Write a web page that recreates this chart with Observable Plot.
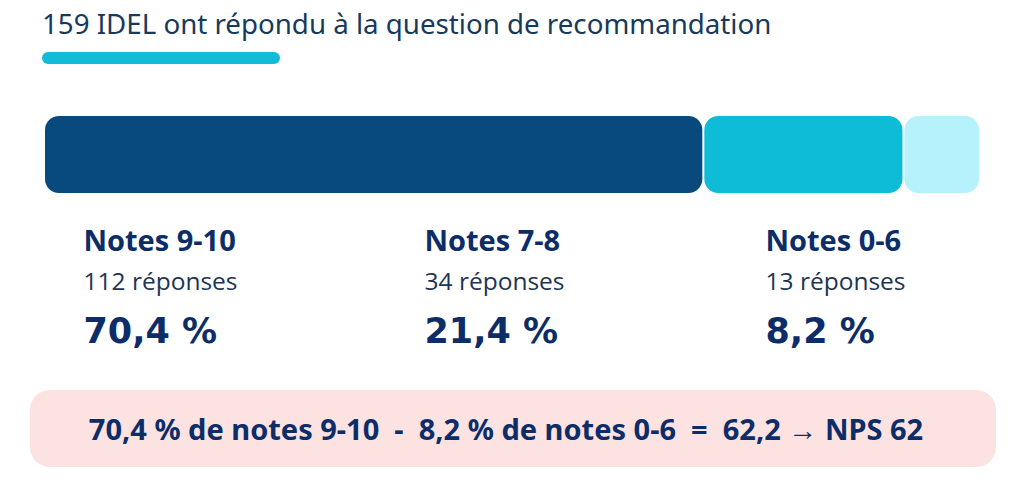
<!DOCTYPE html>
<html>
<head>
<meta charset="utf-8">
<script src="https://cdn.jsdelivr.net/npm/d3@7"></script>
<script src="https://cdn.jsdelivr.net/npm/@observablehq/plot@0.6"></script>
<style>
  html, body { margin: 0; padding: 0; background: #ffffff; }
  body { width: 1024px; height: 500px; position: relative; overflow: hidden; font-family: "Noto Sans", sans-serif; }
  #title { position: absolute; left: 42px; top: 5px; font-size: 27.7px; line-height: 36px; color: #173a5c; white-space: nowrap; }
  #underline { position: absolute; left: 42px; top: 52px; width: 238px; height: 12px; border-radius: 6px; background: #12bcd9; }
  #bar { position: absolute; left: 0; top: 100px; }
  #labels { position: absolute; left: 0; top: 210px; }
  #formula { position: absolute; left: 30px; top: 390px; width: 952px; padding-right: 14px; height: 77px; border-radius: 20px; background: #fde2e2;
             display: flex; align-items: center; justify-content: center; font-weight: 700; font-size: 29px; color: #0c2d68; white-space: pre; }
  svg { overflow: visible; }
</style>
</head>
<body>
<div id="title"></div>
<div id="underline"></div>
<div id="bar"></div>
<div id="labels"></div>
<div id="formula"></div>
<script>
// ---- data ----
const categories = ["Notes 9-10", "Notes 7-8", "Notes 0-6"];
const counts = [112, 34, 13];
const colors = ["#08497e", "#0fbcd8", "#b6f2fb"];
const titleText = "159 IDEL ont répondu à la question de recommandation";

// ---- derived ----
const fmt = v => v.toFixed(1).replace(".", ",");
const total = d3.sum(counts);
const pcts = counts.map(c => Math.round(c / total * 1000) / 10);
let acc = 0;
const rows = categories.map((c, i) => {
  const r = {cat: c, count: counts[i], pct: pcts[i], x1: acc, x2: acc + counts[i]};
  acc += counts[i];
  return r;
});
const nps = Math.round((pcts[0] - pcts[2]) * 10) / 10;

document.getElementById("title").textContent = titleText;

// ---- bar ----
const barPlot = Plot.plot({
  width: 1024,
  height: 110,
  marginLeft: 44,
  marginRight: 44,
  marginTop: 16,
  marginBottom: 17,
  x: {domain: [0, total], axis: null},
  color: {domain: categories, range: colors},
  marks: [
    Plot.rectX(rows, {x1: "x1", x2: "x2", fill: "cat", insetLeft: 1, insetRight: 1, rx: 14})
  ]
});
document.getElementById("bar").append(barPlot);

// ---- labels ----
const navy = "#0c2d68";
const labelPlot = Plot.plot({
  width: 1024,
  height: 150,
  margin: 0,
  x: {type: "point", domain: categories, range: [83, 765], padding: 0, axis: null},
  marks: [
    Plot.text(rows, {x: "cat", text: "cat", frameAnchor: "top", textAnchor: "start", lineAnchor: "bottom", dy: 40,
      fontSize: 29, fontWeight: 700, fill: navy, fontFamily: "Open Sans"}),
    Plot.text(rows, {x: "cat", text: d => d.count + " réponses", frameAnchor: "top", textAnchor: "start", lineAnchor: "bottom", dy: 79,
      fontSize: 24.5, fill: "#1d3553", fontFamily: "Open Sans"}),
    Plot.text(rows, {x: "cat", text: d => fmt(d.pct) + " %", frameAnchor: "top", textAnchor: "start", lineAnchor: "bottom", dy: 132,
      fontSize: 35, fontWeight: 700, fill: navy, fontFamily: "DejaVu Sans"})
  ]
});
document.getElementById("labels").append(labelPlot);

document.getElementById("formula").textContent =
  `${fmt(pcts[0])} % de notes 9-10  -  ${fmt(pcts[2])} % de notes 0-6  =  ${fmt(nps)} → NPS ${Math.round(nps)}`;
</script>
</body>
</html>
